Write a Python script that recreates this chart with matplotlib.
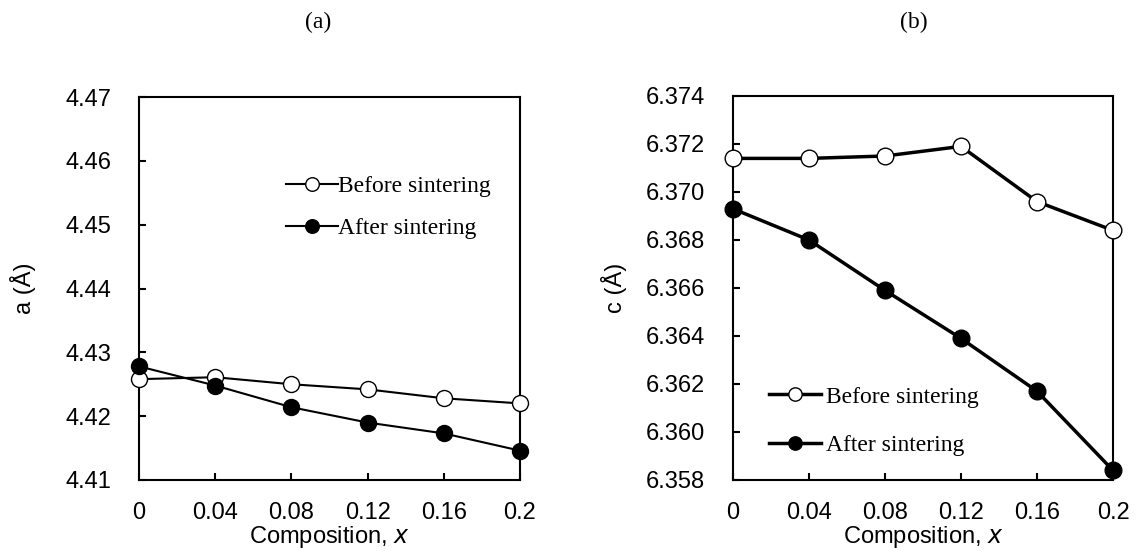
import matplotlib.pyplot as plt

# composition values
comp = [0, 0.04, 0.08, 0.12, 0.16, 0.2]
comp_ticks = [0, 0.04, 0.08, 0.12, 0.16, 0.2]
comp_labels = ['0', '0.04', '0.08', '0.12', '0.16', '0.2']

# lattice parameter a (Å)
a_before = [4.4258, 4.4261, 4.4250, 4.4242, 4.4228, 4.4220]
a_after = [4.4278, 4.4248, 4.4214, 4.4190, 4.4173, 4.4146]
a_ticks = [4.41, 4.42, 4.43, 4.44, 4.45, 4.46, 4.47]

# lattice parameter c (Å)
c_before = [6.3714, 6.3714, 6.3715, 6.3719, 6.3696, 6.3684]
c_after = [6.3693, 6.3680, 6.3659, 6.3639, 6.3617, 6.3584]
c_ticks = [6.358, 6.360, 6.362, 6.364, 6.366, 6.368, 6.370, 6.372, 6.374]

W, H = 1139, 551
fig = plt.figure(figsize=(W / 100, H / 100), dpi=100)

sans = ['Liberation Sans', 'DejaVu Sans']
serif = ['Liberation Serif', 'DejaVu Serif']
fs = 17


def setup(ax, ylabel, yticks, ylabels, label_x):
    ax.set_xlim(0, 0.2)
    ax.set_ylim(yticks[0], yticks[-1])
    ax.set_xticks(comp_ticks)
    ax.set_xticklabels(comp_labels, family=sans, fontsize=fs)
    ax.set_yticks(yticks)
    ax.set_yticklabels(ylabels, family=sans, fontsize=fs)
    ax.tick_params(axis='x', direction='in', length=5, width=1.5, pad=16)
    ax.tick_params(axis='y', direction='in', length=5, width=1.5, pad=20)
    for s in ax.spines.values():
        s.set_linewidth(1.5)
    ax.set_xlabel('Composition, $\\mathit{x}$', family=sans, fontsize=fs, labelpad=0)
    ax.set_ylabel(ylabel, family=sans, fontsize=fs)
    ax.yaxis.set_label_coords(label_x, 0.5)


# (a)
ax1 = fig.add_axes([139 / W, 1 - 480 / H, 381 / W, 383 / H])
ax1.plot(comp, a_before, '-o', color='black', lw=1.5, ms=11.5,
         mfc='white', mec='black', mew=1, label='Before sintering', clip_on=False, zorder=3)
ax1.plot(comp, a_after, '-o', color='black', lw=1.5, ms=11.5,
         mfc='black', mec='black', mew=1, label='After sintering', clip_on=False, zorder=3)
setup(ax1, 'a (Å)', a_ticks, ['%.2f' % v for v in a_ticks], -0.27)
ax1.legend(loc='upper left', bbox_to_anchor=(0.33, 0.85), frameon=False,
           prop={'family': serif, 'size': fs}, handlelength=2.2, handletextpad=0.0,
           labelspacing=0.85, markerscale=0.85)

# (b)
ax2 = fig.add_axes([733 / W, 1 - 480 / H, 380 / W, 384 / H])
ax2.plot(comp, c_before, '-o', color='black', lw=2.5, ms=12,
         mfc='white', mec='black', mew=1, label='Before sintering', clip_on=False, zorder=3)
ax2.plot(comp, c_after, '-o', color='black', lw=2.5, ms=12,
         mfc='black', mec='black', mew=1, label='After sintering', clip_on=False, zorder=3)
setup(ax2, 'c (Å)', c_ticks, ['%.3f' % v for v in c_ticks], -0.28)
ax2.legend(loc='upper left', bbox_to_anchor=(0.04, 0.30), frameon=False,
           prop={'family': serif, 'size': fs}, handlelength=2.2, handletextpad=0.2,
           labelspacing=1.15, markerscale=0.8)

fig.text(318 / W, 1 - 22 / H, '(a)', family=serif, fontsize=fs, ha='center', va='center')
fig.text(914 / W, 1 - 22 / H, '(b)', family=serif, fontsize=fs, ha='center', va='center')

fig.savefig('out.png', dpi=100)
